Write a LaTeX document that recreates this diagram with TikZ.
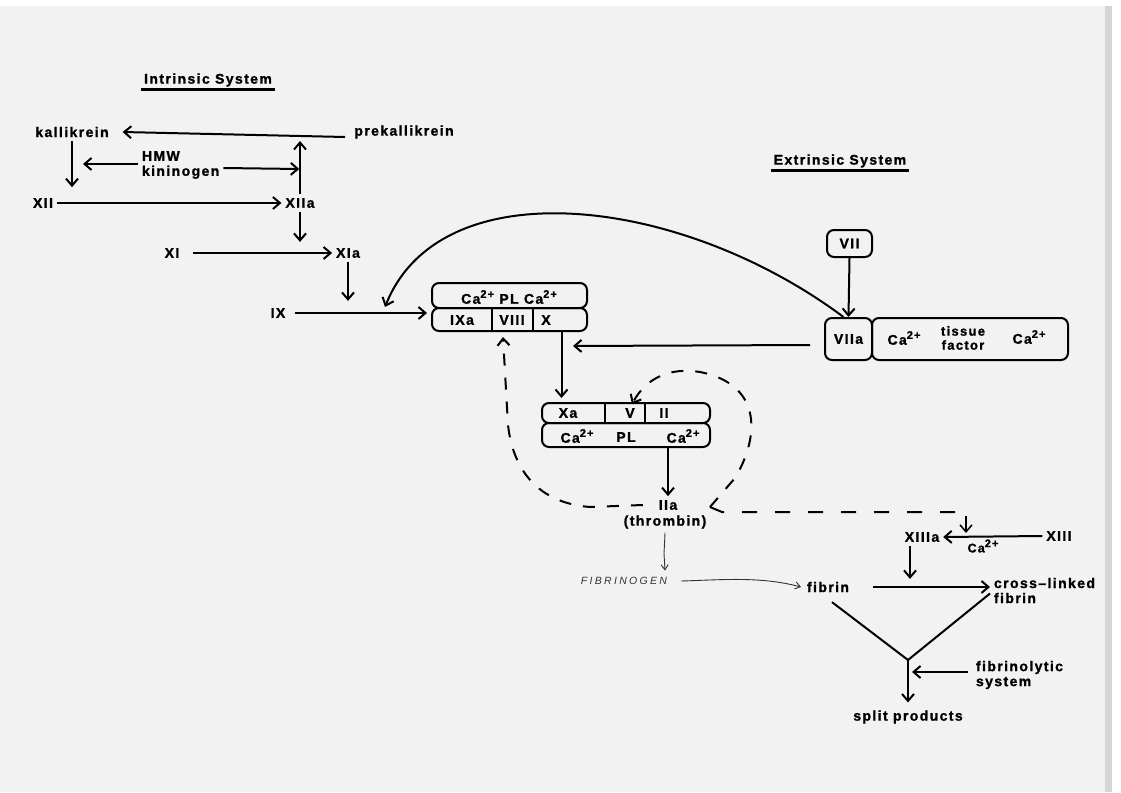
\documentclass[tikz,border=0pt]{standalone}
\usepackage{fontspec}
\setmainfont{Liberation Sans}[LetterSpace=10,BoldFeatures={FakeBold=1.2}]
\newfontfamily\hand{Liberation Sans}[LetterSpace=22]
\usetikzlibrary{arrows.meta,calc}
\newcommand\caion{Ca\raisebox{0.42em}{\fontsize{11}{11}\selectfont 2+}}
\begin{document}
\begin{tikzpicture}[x=1pt,y=-1pt,line width=2pt,
  font=\bfseries\fontsize{14}{15}\selectfont,
  arr/.style={-{Straight Barb[length=7pt,width=12pt]}},
  thinarr/.style={line width=0.9pt,black!80,-{Straight Barb[length=5pt,width=7pt]}},
  dashln/.style={dash pattern=on 12pt off 12pt,line width=2pt},
  rbox/.style={draw,rounded corners=7pt,inner sep=0pt},
  lbl/.style={inner sep=3pt}]
% page background
\fill[white] (0,0) rectangle (1121,792);
\fill[black!5] (0,6) rectangle (1112,792);
\fill[black!16] (1105,6) rectangle (1112,792);
\useasboundingbox (0,0) rectangle (1121,792);

% ---------- intrinsic system ----------
\node[lbl] (intr) at (208,80) {Intrinsic System};
\draw[line width=2.4pt] (intr.south west) ++(1,-1) -- ([xshift=-1pt,yshift=1pt]intr.south east);
\node[lbl] (kal) at (72,132) {kallikrein};
\node[lbl] (pk) at (404,132) {prekallikrein};
\node[lbl,align=left,anchor=west] (hmw) at (138,165) {HMW\\kininogen};
\node[lbl] (xii) at (43,203) {XII};
\node[lbl] (xiia) at (300,203) {XIIa};
\node[lbl] (xi) at (172,253) {XI};
\node[lbl] (xia) at (348,253) {XIa};
\node[lbl] (ix) at (278,313) {IX};

\coordinate (pkl) at (345,137);
\coordinate (pku) at (300,141);
\draw[arr] (pkl) -- ([xshift=10pt]kal.east);
\draw[arr] (xiia.north) -- (pku);
\draw[arr] (kal.south) -- ++(0,46);
\draw[arr] ([yshift=1pt]hmw.west) -- ++(-55,0);
\draw[arr] ([yshift=-3pt]hmw.east) -- ++(76,1);
\draw[arr] (xii.east) -- (xiia.west);
\draw[arr] (xiia.south) -- ++(0,30);
\draw[arr] ([xshift=10pt]xi.east) -- (xia.west);
\draw[arr] (xia.south) -- ++(0,39);

% ---------- box 1 ----------
\node[rbox,minimum width=155pt,minimum height=25pt] (b1t) at (509.5,295.5) {};
\node[rbox,minimum width=155pt,minimum height=23pt] (b1b) at (509.5,319.5) {};
\node[lbl] at (509,297) {\caion{} PL \caion};
\draw (492,308) -- (492,331) (533,308) -- (533,331);
\node[lbl] (ixa) at (462,320) {IXa};
\node[lbl] (viii) at (512,320) {VIII};
\node[lbl] (xx) at (546,320) {X};
\draw[arr,shorten >=4pt] ([xshift=6pt]ix.east) -- (ix.east -| b1b.west);

% ---------- extrinsic system ----------
\node[lbl] (extr) at (840,161) {Extrinsic System};
\draw[line width=2.4pt] (extr.south west) ++(1,-1) -- ([xshift=-1pt,yshift=1pt]extr.south east);
\node[rbox,minimum width=45pt,minimum height=27pt] (v7) at (849.5,243.5) {VII};
\node[rbox,minimum width=47pt,minimum height=42pt] (v7a) at (848.5,339) {VIIa};
\node[rbox,minimum width=196pt,minimum height=42pt] (tf) at (970,339) {};
\node[lbl] at (904,338) {\caion};
\node[lbl,align=center,font=\bfseries\fontsize{13}{14}\selectfont] at (963,338) {tissue\\factor};
\node[lbl] at (1029,337) {\caion};
\draw[arr] (v7.south) -- (v7a.north);
\coordinate (c9) at (385,307);
\draw[arr] ([xshift=-5pt]v7a.north) .. controls (680,195) and (440,168) .. (c9);
\coordinate (mid1) at (573,346);
\draw[arr] ([xshift=-14pt,yshift=-6pt]v7a.west) -- (mid1);

% ---------- box 2 ----------
\node[rbox,minimum width=168pt,minimum height=20pt] (b2t) at (626,413) {};
\node[rbox,minimum width=168pt,minimum height=24pt] (b2b) at (626,435) {};
\draw (605,403) -- (605,423) (645,403) -- (645,423);
\node[lbl] (xa) at (568,413) {Xa};
\node[lbl] (v5) at (630,413) {V};
\node[lbl] (ii) at (664,413) {II};
\node[lbl] at (577,436) {\caion};
\node[lbl] at (626,437) {PL};
\node[lbl] at (683,436) {\caion};
\draw[arr] ([xshift=52pt]b1b.south) -- ([xshift=52pt,yshift=4pt]b1b.south |- b2t.north);

% ---------- thrombin ----------
\node[lbl] (iia) at (668,505) {IIa};
\node[lbl] (thr) at (665,522) {(thrombin)};
\draw[arr] (b2b.south -| iia) -- (iia.north);
\coordinate (vx) at (710,507);
\draw[dashln,arr] (vx) -- (735,478) .. controls (758,440) and (765,385) .. (700,372) .. controls (670,367) and (646,378) .. ([xshift=2pt]v5.north);
\draw[dashln,dash pattern=on 15pt off 18pt] (vx) -- (722,512) -- (966,512);
\draw[arr,line width=1.5pt] (966,516) -- (966,533);
\draw[dashln,arr] ([xshift=-12pt]iia.west) -- (590,507) .. controls (538,503) and (513,470) .. (508,425) -- ([xshift=-6.5pt,yshift=-5pt]b1b.south);

% ---------- fibrin ----------
\node[lbl,font=\hand\itshape\fontsize{10.5}{12}\selectfont,text=black!80] (fgn) at (624,581) {FIBRINOGEN};
\draw[thinarr] (thr.south) -- ++(0,1) -- ++(-1,20) -- ++(1,17);
\node[lbl] (fib) at (828,587) {fibrin};
\draw[thinarr] ([xshift=10pt]fgn.east) .. controls (720,580) and (760,576) .. ([xshift=-2pt]fib.west);
\node[lbl,align=left,anchor=west] (xl) at (990,590.5) {cross--linked\\fibrin};
\draw[arr] ([xshift=20pt]fib.east) -- (xl.west |- fib);
\node[lbl] (xiiia) at (922,537) {XIIIa};
\node[lbl] (xiii) at (1059,536) {XIII};
\node[lbl,font=\bfseries\fontsize{12.5}{13}\selectfont] (ca) at (983,546) {\caion};
\draw[arr] (xiii.west) -- (xiiia.east);
\draw[arr] ([xshift=-12pt]xiiia.south) -- ++(0,33);
\coordinate (yv) at (908,660);
\node[lbl] (split) at (908,717) {split products};
\node[lbl,align=left,anchor=west] (fs) at (972,675) {fibrinolytic\\system};
\draw ([xshift=4pt,yshift=-6pt]fib.south) -- (yv);
\draw ([yshift=-3pt]xl.west) -- (yv);
\draw[arr] (yv) -- ([yshift=4pt]split.north);
\coordinate (fsv) at (912,672);
\draw[arr] ([yshift=3pt,xshift=-4pt]fs.west) -- (fsv);
\end{tikzpicture}
\end{document}
